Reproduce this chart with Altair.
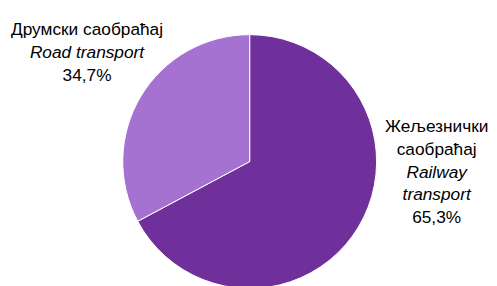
import altair as alt
import pandas as pd

categories = ["Железнички саобраћај / Railway transport", "Друмски саобраћај / Road transport"]
# arc sizes (the printed labels say 65,3% / 34,7%)
arc_values = [67.2, 32.8]
order = [1, 2]
colors = ["#70309b", "#a672d2"]

df = pd.DataFrame({"cat": categories, "share": arc_values, "ord": order})

pie = alt.Chart(df).mark_arc(radius=128.5, stroke="white", strokeWidth=1).encode(
    theta=alt.Theta("share:Q", stack=True),
    order=alt.Order("ord:Q"),
    color=alt.Color("cat:N", scale=alt.Scale(domain=categories, range=colors), legend=None),
    x=alt.value(244.7),
    y=alt.value(153.7),
)

FONT = "Liberation Sans, Arial"

road_lines = ["Друмски саобраћај", "Road transport", "34,7%"]
road_styles = ["normal", "italic", "normal"]
rail_lines = ["Жељезнички", "саобраћај", "Railway", "transport", "65,3%"]
rail_styles = ["normal", "normal", "italic", "italic", "normal"]

layers = [pie]
for i, (t, s) in enumerate(zip(road_lines, road_styles)):
    layers.append(
        alt.Chart(pd.DataFrame({"t": [t]})).mark_text(
            font=FONT, fontSize=17.5, fontStyle=s, color="#000000", baseline="alphabetic", align="center"
        ).encode(text="t:N", x=alt.value(80), y=alt.value(26 + 23 * i))
    )
for i, (t, s) in enumerate(zip(rail_lines, rail_styles)):
    layers.append(
        alt.Chart(pd.DataFrame({"t": [t]})).mark_text(
            font=FONT, fontSize=17.5, fontStyle=s, color="#000000", baseline="alphabetic", align="center"
        ).encode(text="t:N", x=alt.value(434), y=alt.value(124 + 23 * i))
    )

chart = alt.layer(*layers).properties(width=481, height=278, padding=0).configure_view(stroke=None)

chart.save("out.html", embed_options={"renderer": "svg", "actions": False})
